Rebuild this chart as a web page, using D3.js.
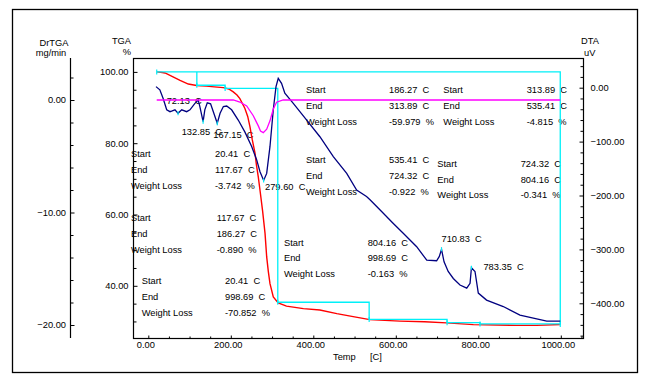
<!DOCTYPE html>
<html><head><meta charset="utf-8">
<script src="https://cdn.jsdelivr.net/npm/d3@7"></script>
<style>
body{margin:0;background:#fff;}
svg text{font-family:"Liberation Sans",Arial,sans-serif;font-size:9.3px;fill:#000;white-space:pre;}
</style></head>
<body><svg id="c" width="650" height="382"></svg>
<script>
// ---------- data ----------
const tgaTemp = [20.41,30,40.5,60,77,97,117,141,160,182,195,206,215,222,234,241,246.5,252,258.7,262,266.7,270.8,277,283,287,291,295,303,315,335,376,416,457,500,537,610,670,723,788,893,941,998.69];
const tgaPct  = [100,99.9,99.7,98.6,97.6,96.6,96.2,96.0,95.8,95.6,95.2,94.4,93.5,92.5,89.8,87.5,84.6,81.0,77.2,74.0,70.5,66.8,61.1,54.7,48.1,44.0,40.6,36.9,35.2,34.3,33.6,33.2,32.2,31.3,30.5,30.1,29.9,29.6,29.1,28.9,28.9,29.15];

const dtaTemp = [18.7,28,36,44.6,52.6,58,64.7,72.13,81,93,101,113,121,125,132.85,137,143,151,157.6,167.15,174,182,190,202,218,234,250.6,262.8,270.8,279.6,287,295,303,309.6,315,323,331,351.5,384,416,448.5,481,505,529,537.5,562,594,618,650.6,675,699,705.5,710.83,717,727,739.4,755.6,772,780,783.35,792,800,820,860.6,901,941.6,966,998.7];
const dtaUV   = [2,-4,-20,-41,-44.5,-43,-41,-47.5,-41,-44.5,-41,-29,-23,-35,-63,-41,-28,-30,-44.5,-66,-47.5,-35,-34,-41,-60,-82,-109,-134,-156,-172,-159,-109,-41,2,17.4,8,-10,-29,-60,-91,-128,-159,-190,-202,-208,-227,-252,-270,-295,-320,-321,-313,-300,-323,-341,-354,-366,-372,-363,-334,-341,-381,-394,-406,-422,-429,-433,-433];

const drTemp = [20.41,206,222,238.5,254.5,266.7,272,278.8,287,295,303,311,327,998.7];
const drVal  = [0,0,-0.18,-0.53,-1.4,-2.3,-2.75,-2.9,-2.6,-1.85,-0.8,-0.2,0,0];

const stepStart = [20.41,117.67,186.27,313.89,535.41,724.32,804.16];
const stepEnd   = [117.67,186.27,313.89,535.41,724.32,804.16,998.69];
const stepLoss  = [-3.742,-0.890,-59.979,-4.815,-0.922,-0.341,-0.163];
const totalStart = 20.41, totalEnd = 998.69, totalLoss = -70.852;

const peakTemp = [72.13,132.85,167.15,279.60,710.83,783.35];
const peakUV   = [-47.5,-63,-66,-172,-300,-334];

const xTicks   = [0,200,400,600,800,1000];
const tgaTicks = [40,60,80,100];
const dtaTicks = [0,-100,-200,-300,-400];
const drTicks  = [0,-10,-20];

// ---------- layout ----------
const P = {l:133,r:583,t:58,b:338};
const blockPos = [ // [labelX, valueX, firstRowCenterY, rowStep]
  [131,215,154,16],[131,216.7,217.3,16],[306,389,90,15.8],[443.3,526.7,90,15.8],
  [306,389,159.3,16.2],[437.3,520.7,164,15.5],[284,367.7,242.7,15.3]];
const totalPos = [141.7,225,280.7,16];
const peakOff = [[-11.4,-12.6],[-21.4,10],[-4,11.4],[1.4,6],[0,-10.3],[12,-1]];

const svg = d3.select("#c");
const x  = d3.scaleLinear().domain([0,1000]).range([148.3,560.8]);
const yT = d3.scaleLinear().domain([100,40]).range([71.9,285.8]);
const yD = d3.scaleLinear().domain([0,-400]).range([87.7,303.3]);
const yR = d3.scaleLinear().domain([0,-20]).range([100,325]);

// outer frame
svg.append("rect").attr("x",12.5).attr("y",9.5).attr("width",625).attr("height",363)
  .attr("fill","none").attr("stroke","#000").attr("stroke-width",1.3);

// plot border
svg.append("rect").attr("x",P.l+.5).attr("y",P.t+.5).attr("width",P.r-P.l).attr("height",P.b-P.t)
  .attr("fill","none").attr("stroke","#000").attr("stroke-width",1.2);

function range(a,b,s){const o=[];for(let v=a;v<=b+1e-9;v+=s)o.push(+v.toFixed(6));return o;}
const minorOf=(arr,maj)=>arr.filter(v=>!maj.includes(v));

// TGA axis (left, x=133) ticks inward
const gT = svg.append("g").attr("transform",`translate(${P.l+.5},0)`);
gT.call(d3.axisRight(yT).tickValues(tgaTicks).tickSize(4).tickFormat("").tickSizeOuter(0));
gT.append("g").call(d3.axisRight(yT).tickValues(minorOf(range(30,100,5),tgaTicks)).tickSize(3).tickFormat("").tickSizeOuter(0));
gT.selectAll(".domain").remove();
gT.append("g").call(d3.axisLeft(yT).tickValues(tgaTicks).tickSize(0).tickPadding(5).tickFormat(d3.format(".2f")))
  .call(g=>g.select(".domain").remove());

// DrTGA axis (x=70)
const gR = svg.append("g").attr("transform","translate(70.5,0)");
gR.append("line").attr("y1",P.t).attr("y2",P.b).attr("stroke","#000").attr("stroke-width",1.2);
gR.append("g").call(d3.axisRight(yR).tickValues(drTicks).tickSize(4).tickFormat("").tickSizeOuter(0)).call(g=>g.select(".domain").remove());
gR.append("g").call(d3.axisRight(yR).tickValues(minorOf(range(-18,2,2),drTicks)).tickSize(3).tickFormat("").tickSizeOuter(0)).call(g=>g.select(".domain").remove());
gR.append("g").call(d3.axisLeft(yR).tickValues(drTicks).tickSize(0).tickPadding(4.5).tickFormat(d3.format(".2f"))).call(g=>g.select(".domain").remove());

// DTA axis (right, x=583) ticks inward
const gD = svg.append("g").attr("transform",`translate(${P.r+.5},0)`);
gD.append("g").call(d3.axisLeft(yD).tickValues(dtaTicks).tickSize(4).tickFormat("").tickSizeOuter(0)).call(g=>g.select(".domain").remove());
gD.append("g").call(d3.axisLeft(yD).tickValues(minorOf(range(-460,40,20),dtaTicks)).tickSize(3).tickFormat("").tickSizeOuter(0)).call(g=>g.select(".domain").remove());
gD.append("g").call(d3.axisRight(yD).tickValues(dtaTicks).tickSize(0).tickPadding(7).tickFormat(d3.format(".2f"))).call(g=>g.select(".domain").remove());

// X axis (bottom, ticks inward)
const gX = svg.append("g").attr("transform",`translate(0,${P.b+.5})`);
gX.append("g").call(d3.axisTop(x).tickValues(xTicks).tickSize(3).tickFormat("").tickSizeOuter(0)).call(g=>g.select(".domain").remove());
gX.append("g").call(d3.axisTop(x).tickValues(minorOf(range(50,1050,50),xTicks)).tickSize(2).tickFormat("").tickSizeOuter(0)).call(g=>g.select(".domain").remove());
gX.append("g").call(d3.axisBottom(x).tickValues(xTicks).tickSize(0).tickPadding(3).tickFormat(d3.format(".2f")))
  .call(g=>g.select(".domain").remove()).selectAll("text").attr("dx",-3);

svg.selectAll(".tick line").attr("stroke","#000");
svg.selectAll(".tick text").attr("font-size",null).attr("font-family",null).attr("fill","#000");

// axis titles
const T=(t,xx,yy,anchor)=>svg.append("text").attr("x",xx).attr("y",yy).attr("text-anchor",anchor||"start").text(t);
T("DrTGA",54,46,"middle"); T("mg/min",51,55.5,"middle");
T("TGA",131,43.5,"end"); T("%",131,54.5,"end");
T("DTA",581,44,"start"); T("uV",584,55.5,"start");
T("Temp",333,360); T("[C]",370,360);

// annotation blocks
function block(pos,s,e,l){
  const [lx,vx,cy,st]=pos;
  const labels=["Start","End","Weight Loss"];
  const vals=[s.toFixed(2)+"  C", e.toFixed(2)+"  C", l.toFixed(3)+"  %"];
  labels.forEach((lb,i)=>{T(lb,lx,cy+i*st+3.3); T(vals[i],vx,cy+i*st+3.3);});
}
stepStart.forEach((s,i)=>block(blockPos[i],s,stepEnd[i],stepLoss[i]));
block(totalPos,totalStart,totalEnd,totalLoss);

// peak labels
peakTemp.forEach((t,i)=>{
  T(t.toFixed(2)+"  C", x(t)+peakOff[i][0], yD(peakUV[i])+peakOff[i][1]+3.3);
});

// clip
svg.append("clipPath").attr("id","pc").append("rect").attr("x",P.l).attr("y",P.t).attr("width",P.r-P.l).attr("height",P.b-P.t);
const plot = svg.append("g").attr("clip-path","url(#pc)");

// TGA red
plot.append("path").datum(tgaTemp.map((t,i)=>[t,tgaPct[i]]))
  .attr("d",d3.line().x(d=>x(d[0])).y(d=>yT(d[1])))
  .attr("fill","none").attr("stroke","#ff0000").attr("stroke-width",1.4);

// cyan step lines
let lvl=100; const stepPts=[[stepStart[0],100]];
const capPts=[[stepStart[0],100]];
stepStart.forEach((s,i)=>{
  stepPts.push([stepEnd[i],lvl]); lvl+=stepLoss[i]; stepPts.push([stepEnd[i],lvl]);
  capPts.push([stepEnd[i],lvl]);
});
const cy = "#00f0f8";
plot.append("path").datum([[stepStart[0],100],[stepEnd[stepEnd.length-1],100],[stepEnd[stepEnd.length-1],lvl]])
  .attr("d",d3.line().x(d=>x(d[0])).y(d=>yT(d[1]))).attr("fill","none").attr("stroke",cy).attr("stroke-width",1.3);
plot.append("path").datum(stepPts.slice(1))
  .attr("d",d3.line().x(d=>x(d[0])).y(d=>yT(d[1]))).attr("fill","none").attr("stroke",cy).attr("stroke-width",1.3);
plot.selectAll(".cap").data(capPts).enter().append("line")
  .attr("x1",d=>x(d[0])).attr("x2",d=>x(d[0])).attr("y1",d=>yT(d[1])-2.5).attr("y2",d=>yT(d[1])+2.5)
  .attr("stroke",cy).attr("stroke-width",1.2);

// DTA navy
plot.append("path").datum(dtaTemp.map((t,i)=>[t,dtaUV[i]]))
  .attr("d",d3.line().x(d=>x(d[0])).y(d=>yD(d[1])))
  .attr("fill","none").attr("stroke","#000080").attr("stroke-width",1.3);
plot.selectAll(".pk").data(peakTemp).enter().append("line")
  .attr("x1",d=>x(d)).attr("x2",d=>x(d)).attr("y1",(d,i)=>yD(peakUV[i])-2).attr("y2",(d,i)=>yD(peakUV[i])+2)
  .attr("stroke",cy).attr("stroke-width",1.2);

// DrTGA magenta
plot.append("path").datum(drTemp.map((t,i)=>[t,drVal[i]]))
  .attr("d",d3.line().x(d=>x(d[0])).y(d=>yR(d[1])))
  .attr("fill","none").attr("stroke","#ff00ff").attr("stroke-width",1.3);
</script></body></html>
